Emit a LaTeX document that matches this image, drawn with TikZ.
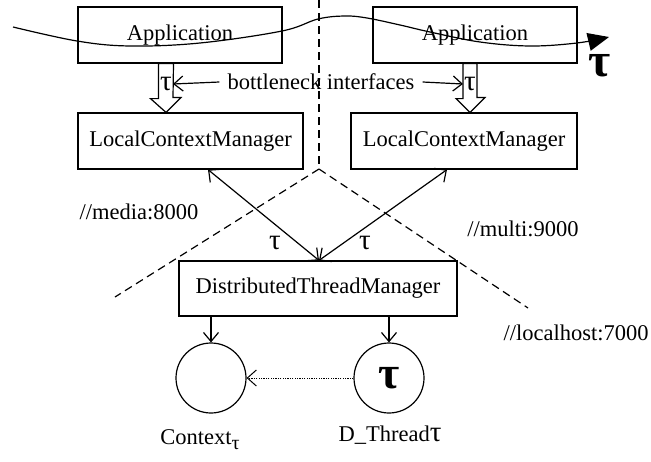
\documentclass[tikz,border=0pt]{standalone}
\usepackage{fontspec}
\setmainfont{Liberation Serif}
\usetikzlibrary{arrows.meta,calc}

% the thread symbol, a little larger than the running text
\newcommand{\thr}{{\fontsize{29}{29}\selectfont τ}}

\tikzset{
  txt/.style={font=\fontsize{22.5}{27}\selectfont, inner sep=0pt},
  box/.style={draw, line width=1.2pt, fill=white, font=\fontsize{22.5}{27}\selectfont,
              inner sep=0pt, minimum height=56pt},
  obj/.style={draw, circle, line width=1.2pt, minimum size=70pt, inner sep=0pt},
  link/.style={line width=1.2pt, {Straight Barb[length=9pt,width=17pt]}-{Straight Barb[length=9pt,width=17pt]}},
  down/.style={line width=1.2pt, -{Straight Barb[length=9pt,width=15pt]}},
  note/.style={line width=1.2pt, -{Straight Barb[length=9pt,width=15pt]}},
  border/.style={line width=1.2pt, dash pattern=on 8pt off 5pt},
  hollow/.style={line width=1.2pt, fill=white, line join=miter},
  bigtau/.style={font=\fontsize{48}{50}\bfseries\selectfont, inner sep=0pt}
}

\begin{document}
\begin{tikzpicture}[x=1pt, y=-1pt]
  \useasboundingbox (0,0) rectangle (651,461);

  % address-space borders
  \coordinate (top) at (319,0);
  \coordinate (hub) at (319,169);
  \coordinate (lend) at (115,297);
  \coordinate (rend) at (528,308);
  \draw[border] (top) -- (hub);
  \draw[border] (hub) -- (lend);
  \draw[border] (hub) -- (rend);

  % two application hosts
  \node[box, minimum width=204pt] (app1) at (180,35) {Application};
  \node[box, minimum width=225pt] (lcm1) at (190.5,141) {LocalContextManager};
  \node[box, minimum width=204pt] (app2) at (475,35) {Application};
  \node[box, minimum width=226pt] (lcm2) at (464,141) {LocalContextManager};

  % thread manager host
  \node[box, minimum width=278pt, minimum height=55pt] (dtm) at (318,288.5) {DistributedThreadManager};

  % hollow interface arrows
  \draw[hollow] ([xshift=-21.5pt]app1.south) -- ++(0,35) -- ++(-8,0)
        -- ([xshift=-24.5pt]lcm1.north) -- ++(15,-15) -- ++(-8,0) -- ([xshift=-6.5pt]app1.south) -- cycle;
  \draw[hollow] ([xshift=-12pt]app2.south) -- ++(0,35) -- ++(-7,0)
        -- ([xshift=6pt]lcm2.north) -- ++(15,-15) -- ++(-8,0) -- ([xshift=2pt]app2.south) -- cycle;
  \node[txt] (tau1) at (166,84) {\thr};
  \node[txt] (tau2) at (470,84) {\thr};

  \node[txt, inner xsep=1pt] (bneck) at (321,82) {bottleneck interfaces};
  \draw[note] ([xshift=-7pt]bneck.west) -- ([xshift=1pt]tau1.east);
  \draw[note] ([xshift=7pt]bneck.east) -- ([xshift=-1pt]tau2.west);

  % links between managers
  \draw[link] ([xshift=17.5pt]lcm1.south) -- ([xshift=1pt]dtm.north);
  \draw[link] ([xshift=-17pt]lcm2.south) -- ([xshift=1pt]dtm.north);
  \node[txt] (tl) at (275,243) {\thr};
  \node[txt] (tr) at (365,243) {\thr};

  % host addresses
  \node[txt] (media) at (139,212) {//media:8000};
  \node[txt] (multi) at (523,229) {//multi:9000};
  \node[txt] (local) at (576,333) {//localhost:7000};

  % context and thread objects
  \node[obj] (ctx) at (211,378) {};
  \node[obj] (dth) at (389,378) {};
  \node[font=\fontsize{46}{48}\bfseries\selectfont, inner sep=0pt] (dtau) at (dth) {τ};
  \draw[down] (dtm.south -| ctx.north) -- (ctx.north);
  \draw[down] (dtm.south -| dth.north) -- (dth.north);
  \draw[line width=1pt, dash pattern=on 1.2pt off 1.2pt, -{Straight Barb[length=9pt,width=16pt]}] (dth.west) -- (ctx.east);

  \node[txt] (ctxl) at (200,440) {Context\raisebox{-5pt}{\fontsize{20}{20}\selectfont τ}};
  \node[txt] (dthl) at (390,435) {D\_Thread\thr};

  % migrating thread path
  \draw[line width=1.2pt, -{Triangle[length=21pt,width=18pt]}]
    plot[smooth, tension=0.6] coordinates {(13,27) (77,41) (130,46) (200,43) (282,31) (318,19)
      (345,16) (367,18) (400,25) (430,32) (480,42) (530,46) (577,43) (609,37)};
  \node[bigtau] (btau) at (600,66) {τ};
\end{tikzpicture}
\end{document}
